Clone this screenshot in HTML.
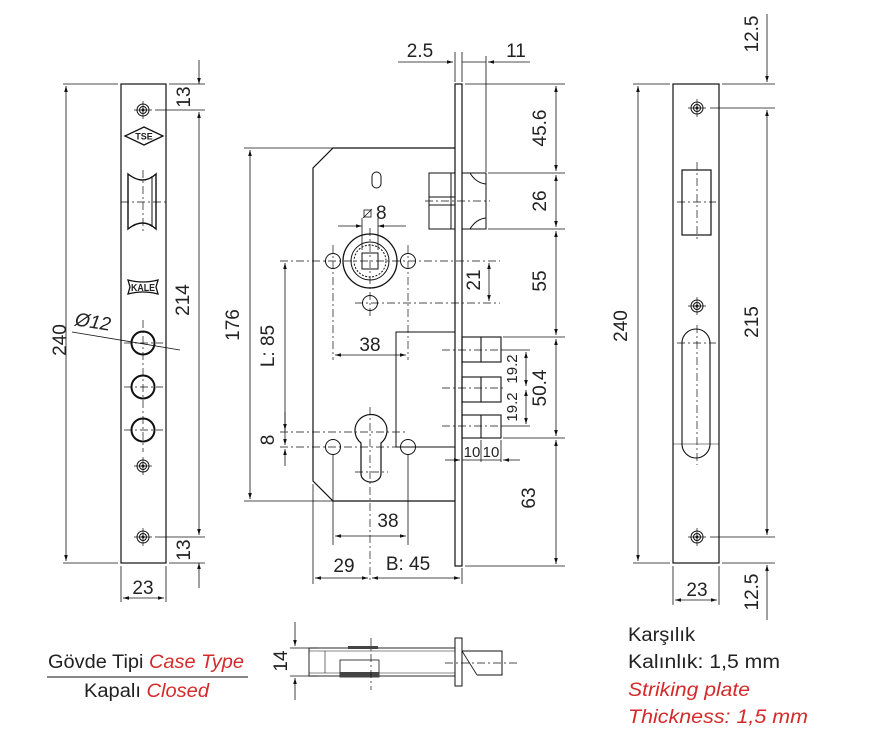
<!DOCTYPE html>
<html><head><meta charset="utf-8"><style>
html,body{margin:0;padding:0;background:#fff}
svg{display:block}
text{font-family:"Liberation Sans",sans-serif;fill:#222}
.d{font-size:19px}
</style></head><body>
<svg width="874" height="749" viewBox="0 0 874 749" xmlns="http://www.w3.org/2000/svg">
<defs>
<marker id="a" viewBox="0 0 10 10" refX="10" refY="5" markerWidth="9" markerHeight="6" orient="auto-start-reverse" markerUnits="userSpaceOnUse"><path d="M0,2 L10,5 L0,8 z" fill="#111"/></marker>
</defs>
<g stroke="#111" stroke-width="1" fill="none">
<!-- LEFT PLATE -->
<rect x="121" y="84" width="45" height="479" stroke-width="1.2"/>
<g stroke-width="0.8">
<line x1="63" y1="84" x2="118" y2="84"/><line x1="63" y1="563" x2="118" y2="563"/>
<line x1="169" y1="84" x2="205" y2="84"/><line x1="169" y1="563" x2="205" y2="563"/>
<line x1="155" y1="110" x2="205" y2="110"/><line x1="155" y1="537" x2="205" y2="537"/>
<line x1="66" y1="86" x2="66" y2="561" marker-start="url(#a)" marker-end="url(#a)"/>
<line x1="199" y1="60" x2="199" y2="84" marker-end="url(#a)"/>
<line x1="199" y1="112" x2="199" y2="535" marker-start="url(#a)" marker-end="url(#a)"/>
<line x1="199" y1="563" x2="199" y2="588" marker-start="url(#a)"/>
<line x1="121" y1="566" x2="121" y2="602"/><line x1="166" y1="566" x2="166" y2="602"/>
<line x1="123" y1="598" x2="164" y2="598" marker-start="url(#a)" marker-end="url(#a)"/>
<line x1="72" y1="332" x2="180" y2="350"/>
</g>
<g>
<circle cx="143" cy="110" r="6"/><circle cx="143" cy="110" r="3.5"/><circle cx="143" cy="110" r="1"/>
<circle cx="143" cy="466" r="6"/><circle cx="143" cy="466" r="3.5"/><circle cx="143" cy="466" r="1"/>
<circle cx="143" cy="537" r="6"/><circle cx="143" cy="537" r="3.5"/><circle cx="143" cy="537" r="1"/>
<g stroke-width="0.7"><line x1="134" y1="110" x2="152" y2="110"/><line x1="143" y1="101" x2="143" y2="119"/>
<line x1="134" y1="466" x2="152" y2="466"/><line x1="143" y1="457" x2="143" y2="475"/>
<line x1="134" y1="537" x2="152" y2="537"/><line x1="143" y1="528" x2="143" y2="546"/></g>
</g>
<path d="M125,136 L144,127 L163,136 L144,145 Z" stroke-width="1.3"/>
<path d="M128,174 Q143,186 156,174 L156,229 Q143,217 128,229 Z" stroke-width="1.4"/>
<line x1="152" y1="176" x2="152" y2="227"/>
<line x1="121" y1="202" x2="166" y2="202" stroke-width="0.7" stroke-dasharray="8,3,2,3"/>
<line x1="143" y1="170" x2="143" y2="233" stroke-width="0.7" stroke-dasharray="8,3,2,3"/>
<path d="M128,280 Q143,284 158,280 L156,287 L158,294 Q143,290 128,294 L130,287 Z" stroke-width="1.3"/>
<g stroke-width="2"><circle cx="143" cy="343" r="11.5"/><circle cx="143" cy="387" r="11.5"/><circle cx="143" cy="430" r="11.5"/></g>
<g stroke-width="0.7" stroke-dasharray="8,3,2,3">
<line x1="143" y1="320" x2="143" y2="452"/>
<line x1="124" y1="343" x2="163" y2="343"/><line x1="124" y1="387" x2="163" y2="387"/><line x1="124" y1="430" x2="163" y2="430"/>
</g>

<!-- CENTER BODY -->
<path d="M455,148 L333,148 L313,168 L313,481 L333,501 L455,501" stroke-width="1.2"/>
<rect x="455" y="84" width="7" height="482" stroke-width="1.2"/>
<rect x="429" y="173" width="26" height="56"/>
<line x1="429" y1="197" x2="455" y2="197"/><line x1="429" y1="205" x2="455" y2="205"/>
<line x1="451" y1="173" x2="451" y2="229"/>
<path d="M462,173 L486,173 L486,229 L462,229 M470,173 Q476,183 486,184 M470,229 Q476,219 486,218"/>
<line x1="425" y1="201" x2="490" y2="201" stroke-width="0.7" stroke-dasharray="8,3,2,3"/>
<rect x="372" y="172" width="9" height="16" rx="4.5"/>
<circle cx="370" cy="261" r="27" stroke-width="1.3"/>
<circle cx="370" cy="261" r="19"/>
<circle cx="370" cy="261" r="16" stroke-dasharray="2,1.5"/>
<rect x="362" y="253" width="16" height="16"/>
<circle cx="333" cy="261" r="7.5"/><circle cx="408" cy="261" r="7.5"/><circle cx="370" cy="303" r="7.5"/>
<g stroke-width="0.7" stroke-dasharray="8,3,2,3">
<line x1="280" y1="261" x2="500" y2="261"/><line x1="355" y1="303" x2="500" y2="303"/>
<line x1="370" y1="228" x2="370" y2="318"/>
<line x1="333" y1="245" x2="333" y2="360"/><line x1="408" y1="245" x2="408" y2="360"/>
</g>
<g stroke-width="0.8">
<line x1="362" y1="218" x2="362" y2="250"/><line x1="378" y1="218" x2="378" y2="250"/>
<line x1="338" y1="226" x2="362" y2="226" marker-end="url(#a)"/>
<line x1="378" y1="226" x2="406" y2="226" marker-start="url(#a)"/>
<rect x="364" y="210" width="7" height="7"/><line x1="363" y1="218" x2="372" y2="209"/>
<line x1="489" y1="263" x2="489" y2="301" marker-start="url(#a)" marker-end="url(#a)"/>
<line x1="335" y1="355" x2="406" y2="355" marker-start="url(#a)" marker-end="url(#a)"/>
</g>
<path d="M455,332 L396,332 L396,447 L455,447" stroke-width="1"/>
<path d="M361,443 A16,16 0 1 1 381,443 L381,474 A10,8 0 0 1 361,474 Z" stroke-width="1.2"/>
<circle cx="333" cy="447" r="7.5"/><circle cx="408" cy="447" r="7.5"/>
<g stroke-width="0.7" stroke-dasharray="8,3,2,3">
<line x1="280" y1="432" x2="405" y2="432"/><line x1="280" y1="447" x2="420" y2="447"/>
<line x1="355" y1="472" x2="388" y2="472"/>
<line x1="370" y1="407" x2="370" y2="580"/>
</g>
<g stroke-width="0.8">
<line x1="333" y1="455" x2="333" y2="545"/><line x1="408" y1="455" x2="408" y2="545"/>
<line x1="335" y1="536" x2="406" y2="536" marker-start="url(#a)" marker-end="url(#a)"/>
<line x1="285" y1="263" x2="285" y2="445" marker-start="url(#a)" marker-end="url(#a)"/>
<line x1="285" y1="412" x2="285" y2="430" marker-end="url(#a)"/>
<line x1="285" y1="466" x2="285" y2="449" marker-end="url(#a)"/>
<line x1="244" y1="148" x2="333" y2="148"/><line x1="244" y1="501" x2="333" y2="501"/>
<line x1="250" y1="150" x2="250" y2="499" marker-start="url(#a)" marker-end="url(#a)"/>
<line x1="313" y1="484" x2="313" y2="584"/><line x1="462" y1="568" x2="462" y2="584"/>
<line x1="315" y1="578" x2="368" y2="578" marker-start="url(#a)" marker-end="url(#a)"/>
<line x1="372" y1="578" x2="460" y2="578" marker-start="url(#a)" marker-end="url(#a)"/>
<line x1="455" y1="52" x2="455" y2="82"/><line x1="462" y1="52" x2="462" y2="82"/>
<line x1="486" y1="56" x2="486" y2="172"/>
<line x1="398" y1="62" x2="453" y2="62" marker-end="url(#a)"/>
<line x1="530" y1="62" x2="488" y2="62" marker-end="url(#a)"/>
<line x1="462" y1="62" x2="486" y2="62"/>
<line x1="465" y1="84" x2="565" y2="84"/><line x1="488" y1="173" x2="565" y2="173"/>
<line x1="488" y1="229" x2="565" y2="229"/><line x1="503" y1="337" x2="565" y2="337"/>
<line x1="503" y1="438" x2="565" y2="438"/><line x1="465" y1="566" x2="565" y2="566"/>
<line x1="556" y1="86" x2="556" y2="171" marker-start="url(#a)" marker-end="url(#a)"/>
<line x1="556" y1="175" x2="556" y2="227" marker-start="url(#a)" marker-end="url(#a)"/>
<line x1="556" y1="231" x2="556" y2="335" marker-start="url(#a)" marker-end="url(#a)"/>
<line x1="556" y1="339" x2="556" y2="436" marker-start="url(#a)" marker-end="url(#a)"/>
<line x1="556" y1="440" x2="556" y2="564" marker-start="url(#a)" marker-end="url(#a)"/>
<line x1="503" y1="350" x2="530" y2="350"/><line x1="503" y1="426" x2="530" y2="426"/>
<line x1="526" y1="352" x2="526" y2="386" marker-start="url(#a)" marker-end="url(#a)"/>
<line x1="526" y1="390" x2="526" y2="424" marker-start="url(#a)" marker-end="url(#a)"/>
<line x1="481" y1="440" x2="481" y2="462"/><line x1="501" y1="440" x2="501" y2="462"/>
<line x1="445" y1="460" x2="460" y2="460" marker-end="url(#a)"/>
<line x1="462" y1="460" x2="501" y2="460"/>
<line x1="520" y1="460" x2="503" y2="460" marker-end="url(#a)"/>
</g>
<g stroke-width="1.1">
<rect x="462" y="337" width="39" height="25"/><line x1="481" y1="337" x2="481" y2="362"/>
<rect x="462" y="377" width="39" height="25"/><line x1="481" y1="377" x2="481" y2="402"/>
<rect x="462" y="415" width="39" height="23"/><line x1="481" y1="415" x2="481" y2="438"/>
</g>
<g stroke-width="0.7" stroke-dasharray="8,3,2,3">
<line x1="442" y1="350" x2="503" y2="350"/><line x1="442" y1="388" x2="503" y2="388"/><line x1="442" y1="426" x2="503" y2="426"/>
</g>

<!-- RIGHT PLATE -->
<rect x="673" y="84" width="46" height="479" stroke-width="1.2"/>
<g>
<circle cx="697" cy="108" r="6"/><circle cx="697" cy="108" r="3.5"/><circle cx="697" cy="108" r="1"/>
<circle cx="697" cy="306" r="6"/><circle cx="697" cy="306" r="3.5"/><circle cx="697" cy="306" r="1"/>
<circle cx="697" cy="537" r="6"/><circle cx="697" cy="537" r="3.5"/><circle cx="697" cy="537" r="1"/>
<g stroke-width="0.7"><line x1="688" y1="108" x2="706" y2="108"/><line x1="697" y1="99" x2="697" y2="117"/>
<line x1="688" y1="306" x2="706" y2="306"/><line x1="697" y1="297" x2="697" y2="315"/>
<line x1="688" y1="537" x2="706" y2="537"/><line x1="697" y1="528" x2="697" y2="546"/></g>
</g>
<rect x="682" y="170" width="29" height="65" stroke-width="1.2"/>
<path d="M682,343 A14,14 0 0 1 710,343 L710,444 A14,14 0 0 1 682,444 Z" stroke-width="1.1"/>
<line x1="673" y1="444" x2="719" y2="444" stroke-width="0.6"/>
<g stroke-width="0.7" stroke-dasharray="8,3,2,3">
<line x1="697" y1="162" x2="697" y2="242"/><line x1="677" y1="202" x2="716" y2="202"/>
<line x1="697" y1="325" x2="697" y2="465"/><line x1="677" y1="343" x2="716" y2="343"/>
</g>
<g stroke-width="0.8">
<line x1="633" y1="84" x2="670" y2="84"/><line x1="633" y1="563" x2="670" y2="563"/>
<line x1="722" y1="84" x2="775" y2="84"/><line x1="722" y1="563" x2="775" y2="563"/>
<line x1="710" y1="108" x2="775" y2="108"/><line x1="710" y1="537" x2="775" y2="537"/>
<line x1="638" y1="86" x2="638" y2="561" marker-start="url(#a)" marker-end="url(#a)"/>
<line x1="767" y1="14" x2="767" y2="82" marker-end="url(#a)"/>
<line x1="767" y1="110" x2="767" y2="535" marker-start="url(#a)" marker-end="url(#a)"/>
<line x1="767" y1="565" x2="767" y2="620" marker-start="url(#a)"/>
<line x1="673" y1="566" x2="673" y2="605"/><line x1="719" y1="566" x2="719" y2="605"/>
<line x1="675" y1="600" x2="717" y2="600" marker-start="url(#a)" marker-end="url(#a)"/>
</g>

<!-- BOTTOM SIDE VIEW -->
<g stroke-width="0.8">
<line x1="290" y1="648" x2="318" y2="648"/><line x1="290" y1="676" x2="318" y2="676"/>
<line x1="295" y1="622" x2="295" y2="646" marker-end="url(#a)"/>
<line x1="295" y1="700" x2="295" y2="678" marker-end="url(#a)"/>
</g>
<rect x="309" y="648" width="146" height="28" stroke-width="0.9"/>
<line x1="309" y1="651" x2="455" y2="651" stroke-width="0.5"/><line x1="309" y1="673" x2="455" y2="673" stroke-width="0.5"/>
<line x1="325" y1="651" x2="325" y2="673" stroke-width="0.6"/>
<rect x="340" y="660" width="39" height="17" stroke-width="0.8"/>
<rect x="340" y="672" width="39" height="5" fill="#444" stroke="none"/>
<rect x="348" y="646" width="30" height="3" fill="#444" stroke="none"/>
<rect x="455" y="638" width="7" height="48" stroke-width="1"/>
<path d="M462,651 L502,651 L502,675 L477,675" stroke-width="1"/>
<line x1="462" y1="651" x2="477" y2="675" stroke-width="0.8"/>
<g stroke-width="0.7" stroke-dasharray="8,3,2,3">
<line x1="445" y1="663" x2="518" y2="663"/><line x1="371" y1="638" x2="371" y2="690"/>
</g>
<line x1="47" y1="677" x2="248" y2="677" stroke-width="0.9"/>
</g>

<!-- TEXT -->
<text x="144" y="139.5" text-anchor="middle" font-size="9" font-weight="bold">TSE</text>
<text x="143" y="291" text-anchor="middle" font-size="10" font-weight="bold" textLength="24" lengthAdjust="spacingAndGlyphs">KALE</text>
<g class="d">
<text x="72" y="340" transform="rotate(-90 72 340)" text-anchor="middle" dy="-6">240</text>
<text x="195" y="97" transform="rotate(-90 195 97)" text-anchor="middle" dy="-5">13</text>
<text x="195" y="300" transform="rotate(-90 195 300)" text-anchor="middle" dy="-6">214</text>
<text x="195" y="550" transform="rotate(-90 195 550)" text-anchor="middle" dy="-5">13</text>
<text x="143" y="594" text-anchor="middle">23</text>
<text x="92" y="328" transform="rotate(9 92 328)" text-anchor="middle" font-style="italic">Ø12</text>
<text x="245" y="325" transform="rotate(-90 245 325)" text-anchor="middle" dy="-6">176</text>
<text x="280" y="346" transform="rotate(-90 280 346)" text-anchor="middle" dy="-6">L: 85</text>
<text x="280" y="440" transform="rotate(-90 280 440)" text-anchor="middle" dy="-6">8</text>
<text x="376" y="219">8</text>
<text x="370" y="351" text-anchor="middle">38</text>
<text x="388" y="527" text-anchor="middle">38</text>
<text x="344" y="572" text-anchor="middle">29</text>
<text x="408" y="570" text-anchor="middle">B: 45</text>
<text x="420" y="57" text-anchor="middle">2.5</text>
<text x="516" y="57" text-anchor="middle">11</text>
<text x="551" y="128" transform="rotate(-90 551 128)" text-anchor="middle" dy="-5">45.6</text>
<text x="551" y="201" transform="rotate(-90 551 201)" text-anchor="middle" dy="-5">26</text>
<text x="551" y="281" transform="rotate(-90 551 281)" text-anchor="middle" dy="-5">55</text>
<text x="551" y="388" transform="rotate(-90 551 388)" text-anchor="middle" dy="-5">50.4</text>
<text x="540" y="498" transform="rotate(-90 540 498)" text-anchor="middle" dy="-5">63</text>
<text x="485" y="280" transform="rotate(-90 485 280)" text-anchor="middle" dy="-5">21</text>
<text x="521" y="369" transform="rotate(-90 521 369)" text-anchor="middle" dy="-4" font-size="15">19.2</text>
<text x="521" y="407" transform="rotate(-90 521 407)" text-anchor="middle" dy="-4" font-size="15">19.2</text>
<text x="472" y="457" text-anchor="middle" font-size="15">10</text>
<text x="491" y="457" text-anchor="middle" font-size="15">10</text>
<text x="633" y="326" transform="rotate(-90 633 326)" text-anchor="middle" dy="-6">240</text>
<text x="763" y="322" transform="rotate(-90 763 322)" text-anchor="middle" dy="-5">215</text>
<text x="763" y="34" transform="rotate(-90 763 34)" text-anchor="middle" dy="-5">12.5</text>
<text x="763" y="592" transform="rotate(-90 763 592)" text-anchor="middle" dy="-5">12.5</text>
<text x="697" y="596" text-anchor="middle">23</text>
<text x="291" y="661" transform="rotate(-90 291 661)" text-anchor="middle" dy="-4">14</text>
</g>
<g font-size="19">
<text x="48" y="668" textLength="196" lengthAdjust="spacingAndGlyphs">Gövde Tipi <tspan style="fill:#d42a2a" font-style="italic">Case Type</tspan></text>
<text x="84" y="697" textLength="125" lengthAdjust="spacingAndGlyphs">Kapalı <tspan style="fill:#d42a2a" font-style="italic">Closed</tspan></text>
<text x="628" y="641" textLength="67" lengthAdjust="spacingAndGlyphs">Karşılık</text>
<text x="628" y="668" textLength="152" lengthAdjust="spacingAndGlyphs">Kalınlık: 1,5 mm</text>
<text x="628" y="696" style="fill:#d42a2a" font-style="italic" textLength="122" lengthAdjust="spacingAndGlyphs">Striking plate</text>
<text x="628" y="723" style="fill:#d42a2a" font-style="italic" textLength="180" lengthAdjust="spacingAndGlyphs">Thickness: 1,5 mm</text>
</g>
</svg>
</body></html>
